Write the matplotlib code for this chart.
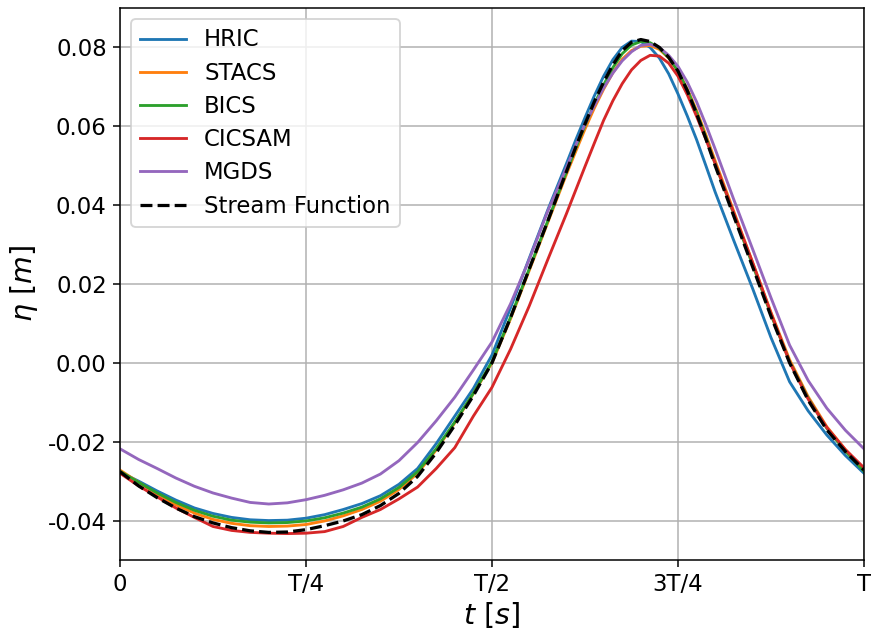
import matplotlib.pyplot as plt

# Time as fraction of the wave period T (finer sampling around the crest)
t = [0.0, 0.025, 0.05, 0.075, 0.1, 0.125, 0.15, 0.175, 0.2, 0.225,
     0.25, 0.275, 0.3, 0.325, 0.35, 0.375, 0.4, 0.425, 0.45, 0.475,
     0.5, 0.525, 0.55, 0.575,
     0.6, 0.6125, 0.625, 0.6375, 0.65, 0.6625, 0.675, 0.6875, 0.7, 0.7125,
     0.725, 0.7375, 0.75, 0.7625, 0.775, 0.7875, 0.8,
     0.825, 0.85, 0.875, 0.9, 0.925, 0.95, 0.975, 1.0]

# Free-surface elevation eta [m]
hric = [-0.0277, -0.0300, -0.0325, -0.0348, -0.0368, -0.0382, -0.0392, -0.0398, -0.0400, -0.0399,
        -0.0394, -0.0385, -0.0372, -0.0357, -0.0337, -0.0308, -0.0268, -0.0205, -0.0135, -0.0065,
        0.0020, 0.0140, 0.0265, 0.0388,
        0.0505, 0.0565, 0.0622, 0.0677, 0.0727, 0.0769, 0.0800, 0.0816, 0.0815, 0.0800,
        0.0773, 0.0733, 0.0682, 0.0626, 0.0566, 0.0500, 0.0433,
        0.0310, 0.0190, 0.0064, -0.0048, -0.0122, -0.0183, -0.0235, -0.0280]
stacs = [-0.0272, -0.0303, -0.0333, -0.0360, -0.0381, -0.0397, -0.0407, -0.0413, -0.0415, -0.0414,
         -0.0410, -0.0401, -0.0388, -0.0372, -0.0351, -0.0321, -0.0280, -0.0221, -0.0152, -0.0078,
         0.0000, 0.0112, 0.0234, 0.0356,
         0.0478, 0.0536, 0.0593, 0.0646, 0.0694, 0.0736, 0.0770, 0.0792, 0.0803, 0.0805,
         0.0795, 0.0773, 0.0740, 0.0695, 0.0640, 0.0578, 0.0512,
         0.0384, 0.0256, 0.0128, 0.0008, -0.0086, -0.0162, -0.0220, -0.0270]
bics = [-0.0275, -0.0303, -0.0330, -0.0354, -0.0374, -0.0389, -0.0399, -0.0404, -0.0406, -0.0405,
        -0.0401, -0.0393, -0.0381, -0.0366, -0.0345, -0.0316, -0.0276, -0.0218, -0.0150, -0.0077,
        0.0003, 0.0116, 0.0238, 0.0360,
        0.0484, 0.0544, 0.0602, 0.0656, 0.0705, 0.0749, 0.0784, 0.0806, 0.0815, 0.0812,
        0.0798, 0.0774, 0.0740, 0.0692, 0.0635, 0.0572, 0.0505,
        0.0377, 0.0250, 0.0122, 0.0003, -0.0090, -0.0166, -0.0224, -0.0275]
cicsam = [-0.0280, -0.0312, -0.0340, -0.0368, -0.0392, -0.0415, -0.0425, -0.0430, -0.0432, -0.0433,
          -0.0432, -0.0428, -0.0415, -0.0392, -0.0372, -0.0345, -0.0315, -0.0268, -0.0215, -0.0135,
          -0.0062, 0.0035, 0.0144, 0.0262,
          0.0378, 0.0438, 0.0498, 0.0557, 0.0615, 0.0665, 0.0708, 0.0743, 0.0767, 0.0780,
          0.0778, 0.0760, 0.0727, 0.0680, 0.0625, 0.0567, 0.0505,
          0.0380, 0.0256, 0.0126, 0.0002, -0.0092, -0.0164, -0.0220, -0.0266]
mgds = [-0.0218, -0.0245, -0.0268, -0.0292, -0.0313, -0.0330, -0.0343, -0.0354, -0.0358, -0.0355,
        -0.0347, -0.0336, -0.0322, -0.0305, -0.0282, -0.0248, -0.0202, -0.0147, -0.0087, -0.0018,
        0.0053, 0.0150, 0.0262, 0.0385,
        0.0495, 0.0552, 0.0605, 0.0652, 0.0697, 0.0735, 0.0766, 0.0789, 0.0805, 0.0808,
        0.0800, 0.0780, 0.0752, 0.0712, 0.0662, 0.0604, 0.0542,
        0.0414, 0.0290, 0.0165, 0.0045, -0.0045, -0.0115, -0.0171, -0.0218]
stream = [-0.0276, -0.0312, -0.0342, -0.0368, -0.0390, -0.0406, -0.0418, -0.0426, -0.0430, -0.0429,
          -0.0423, -0.0413, -0.0401, -0.0385, -0.0362, -0.0331, -0.0288, -0.0228, -0.0158, -0.0083,
          0.0000, 0.0115, 0.0238, 0.0360,
          0.0485, 0.0547, 0.0606, 0.0662, 0.0712, 0.0756, 0.0792, 0.0813, 0.0820, 0.0815,
          0.0800, 0.0775, 0.0740, 0.0690, 0.0632, 0.0568, 0.0500,
          0.0372, 0.0245, 0.0118, 0.0000, -0.0095, -0.0170, -0.0225, -0.0272]

x_ticks = [0, 0.25, 0.5, 0.75, 1.0]
x_tick_labels = ['0', 'T/4', 'T/2', '3T/4', 'T']

dpi = 136.5625
fig = plt.figure(figsize=(874 / dpi, 640 / dpi), dpi=dpi)
ax = fig.add_axes([120 / 874, 1 - 560 / 640, 744 / 874, 552 / 640])

ax.plot(t, hric, color='tab:blue', label='HRIC')
ax.plot(t, stacs, color='tab:orange', label='STACS')
ax.plot(t, bics, color='tab:green', label='BICS')
ax.plot(t, cicsam, color='tab:red', label='CICSAM')
ax.plot(t, mgds, color='tab:purple', label='MGDS')
ax.plot(t, stream, color='black', lw=1.7, ls='--', label='Stream Function')

ax.set_xlim(0, 1)
ax.set_ylim(-0.05, 0.09)
ax.set_xticks(x_ticks, x_tick_labels)
ax.set_yticks([-0.04, -0.02, 0.0, 0.02, 0.04, 0.06, 0.08])
ax.yaxis.set_major_formatter(plt.FormatStrFormatter('%.2f'))
ax.tick_params(labelsize=12)
ax.grid(True)
ax.set_xlabel(r'$t\ [s]$', fontsize=15, labelpad=2)
ax.set_ylabel(r'$\eta\ [m]$', fontsize=15)
ax.legend(loc='upper left', fontsize=12, labelspacing=0.45)

fig.savefig('out.png', dpi=dpi)
